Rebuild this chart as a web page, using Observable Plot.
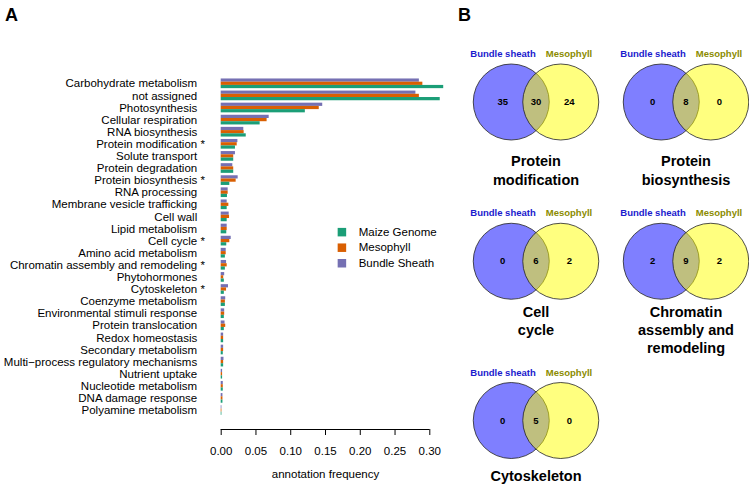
<!DOCTYPE html>
<html><head><meta charset="utf-8">
<script src="https://cdn.jsdelivr.net/npm/d3@7"></script>
<script src="https://cdn.jsdelivr.net/npm/@observablehq/plot@0.6"></script>
<style>
body{margin:0;background:#fff;}
#wrap{position:relative;width:749px;height:486px;overflow:hidden;font-family:"Liberation Sans",Arial,sans-serif;}
#a{position:absolute;left:0;top:0;}
#b{position:absolute;left:450px;top:0;}
.panel{position:absolute;font-weight:bold;font-size:18px;line-height:18px;color:#000;}
</style></head><body>
<div id="wrap"><div id="a"></div><div id="b"></div>
<div class="panel" style="left:5px;top:6px">A</div>
<div class="panel" style="left:458px;top:6px">B</div>
</div>
<script>
// ---------- Panel A data ----------
const categories = ["Carbohydrate metabolism","not assigned","Photosynthesis","Cellular respiration","RNA biosynthesis","Protein modification","Solute transport","Protein degradation","Protein biosynthesis","RNA processing","Membrane vesicle trafficking","Cell wall","Lipid metabolism","Cell cycle","Amino acid metabolism","Chromatin assembly and remodeling","Phytohormones","Cytoskeleton","Coenzyme metabolism","Environmental stimuli response","Protein translocation","Redox homeostasis","Secondary metabolism","Multi\u2212process regulatory mechanisms","Nutrient uptake","Nucleotide metabolism","DNA damage response","Polyamine metabolism"];
const starred = ["Protein modification","Protein biosynthesis","Cell cycle","Chromatin assembly and remodeling","Cytoskeleton"];
const series = ["Bundle Sheath","Mesophyll","Maize Genome"];
const bundleSheath = [0.285,0.280,0.146,0.069,0.0325,0.024,0.0205,0.0167,0.0244,0.010,0.0086,0.0115,0.0086,0.0144,0.0072,0.0077,0.005,0.0105,0.0065,0.005,0.0055,0.0035,0.0035,0.004,0.002,0.003,0.0025,0.001];
const mesophyll    = [0.290,0.285,0.141,0.066,0.033,0.023,0.018,0.018,0.0215,0.010,0.011,0.012,0.0086,0.0124,0.0072,0.0086,0.0036,0.0077,0.006,0.005,0.0065,0.0035,0.0035,0.0035,0.002,0.003,0.0025,0.001];
const maizeGenome  = [0.320,0.315,0.121,0.056,0.036,0.0205,0.018,0.018,0.0124,0.009,0.0086,0.0086,0.008,0.008,0.006,0.006,0.0045,0.0045,0.006,0.0045,0.0045,0.0035,0.003,0.0035,0.002,0.003,0.0025,0.001];
const legendOrder = ["Maize Genome","Mesophyll","Bundle Sheath"];
const seriesColors = ["#7570b3","#d95f02","#1b9e77"];
const xTicks = [0,0.05,0.10,0.15,0.20,0.25,0.30];
const xTitle = "annotation frequency";

// ---------- Panel B data ----------
const vennTitles = ["Protein\nmodification","Protein\nbiosynthesis","Cell\ncycle","Chromatin\nassembly and\nremodeling","Cytoskeleton"];
const bsOnly = [35,0,0,2,0];
const shared = [30,8,6,9,5];
const mOnly  = [24,0,2,2,0];
const setNames = ["Bundle sheath","Mesophyll"];

// ---------- layout (styles) ----------
const FONT = "Liberation Sans, Arial, sans-serif";
const G = 0.8, B = G/3;          // group height / bar height in row units
const yTop = -1.926, yBottom = 28.57;
const valuesBySeries = [bundleSheath, mesophyll, maizeGenome];
const rows = categories.flatMap((c,i)=>series.map((s,k)=>({c,i,k,s,v:valuesBySeries[k][i]})));
const cats = categories.map((c,i)=>({c,i}));

const plotA = Plot.plot({
  width: 460, height: 486,
  marginLeft: 220.7, marginRight: 30.7, marginTop: 60, marginBottom: 57,
  style: {fontFamily: FONT, fontSize: "11.5px", background: "transparent", overflow: "visible", color: "#000"},
  x: {domain: [0, 0.30]},
  y: {domain: [yTop, yBottom], range: [60, 429], axis: null},
  color: {domain: series, range: seriesColors},
  marks: [
    Plot.rectX(rows, {x1: 0, x2: "v", y1: d => d.i - G/2 + d.k*B, y2: d => d.i - G/2 + (d.k+1)*B, fill: "s"}),
    Plot.text(cats, {x: 0, y: "i", text: "c", textAnchor: "end", dx: -24, fill: "#000", fontSize: 11.5}),
    Plot.text(cats.filter(d => starred.includes(d.c)), {x: 0, y: "i", text: () => "*", textAnchor: "start", dx: -20.8, fill: "#000", fontSize: 11.5}),
    Plot.ruleY([yBottom], {x1: xTicks[0], x2: xTicks[xTicks.length-1], stroke: "#000"}),
    Plot.axisX({ticks: xTicks, tickSize: 6, tickPadding: 11.5, tickFormat: d3.format(".2f"), label: null, fontSize: 11.5, stroke: "#000", fill: "#000"}),
    Plot.text([xTitle], {x: () => d3.mean(d3.extent(xTicks)), frameAnchor: "bottom", dy: 48, text: d => d, fontSize: 11.5, fill: "#000"}),
    // legend
    Plot.dot(legendOrder, {x: () => 0.1736, y: (d,i) => 12.26 + i*1.285, symbol: "square", r: 4.8, fill: d => d, stroke: null}),
    Plot.text(legendOrder, {x: () => 0.1977, y: (d,i) => 12.26 + i*1.285, text: d => d, textAnchor: "start", fontSize: 11.5, fill: "#000"})
  ]
});
document.getElementById("a").appendChild(plotA);

// ---------- Panel B ----------
const vennCol = [0,1,0,1,0];
const vennRow = [0,0,1,1,2];
const titleOff = [0.324,0.324,0.2675,0.2675,0.300];
const cOff = 0.165, nOff = 0.222, lOff = 0.22, lY = -0.3014;
const V = vennTitles.map((t,i)=>({t,i,c:vennCol[i],r:vennRow[i],a:bsOnly[i],b:shared[i],m:mOnly[i]}));

const plotB = Plot.plot({
  width: 299, height: 486, margin: 0,
  style: {fontFamily: FONT, background: "transparent", overflow: "visible", color: "#000"},
  x: {domain: [0,1], range: [85.5, 235.5], axis: null},
  y: {domain: [0,2], range: [101.5, 420], axis: null},
  marks: [
    Plot.dot(V, {x: d => d.c - cOff, y: "r", r: 38, fill: "#0000ff", fillOpacity: 0.5, stroke: "#222", strokeWidth: 0.8}),
    Plot.dot(V, {x: d => d.c + cOff, y: "r", r: 38, fill: "#ffff00", fillOpacity: 0.5, stroke: "#222", strokeWidth: 0.8}),
    Plot.text(V, {x: d => d.c - nOff, y: "r", text: "a", fontWeight: "bold", fontSize: 9.5, fill: "#000"}),
    Plot.text(V, {x: d => d.c, y: "r", text: "b", fontWeight: "bold", fontSize: 9.5, fill: "#000"}),
    Plot.text(V, {x: d => d.c + nOff, y: "r", text: "m", fontWeight: "bold", fontSize: 9.5, fill: "#000"}),
    Plot.text(V, {x: d => d.c - lOff, y: d => d.r + lY, text: () => setNames[0], fontWeight: "bold", fontSize: 9.5, fill: "#1a1acd"}),
    Plot.text(V, {x: d => d.c + lOff, y: d => d.r + lY, text: () => setNames[1], fontWeight: "bold", fontSize: 9.5, fill: "#8b8b00"}),
    Plot.text(V, {x: "c", y: d => d.r + titleOff[d.i], text: "t", lineAnchor: "top", lineHeight: 1.25, fontWeight: "bold", fontSize: 14.5, fill: "#000"})
  ]
});
document.getElementById("b").appendChild(plotB);
</script>
</body></html>
